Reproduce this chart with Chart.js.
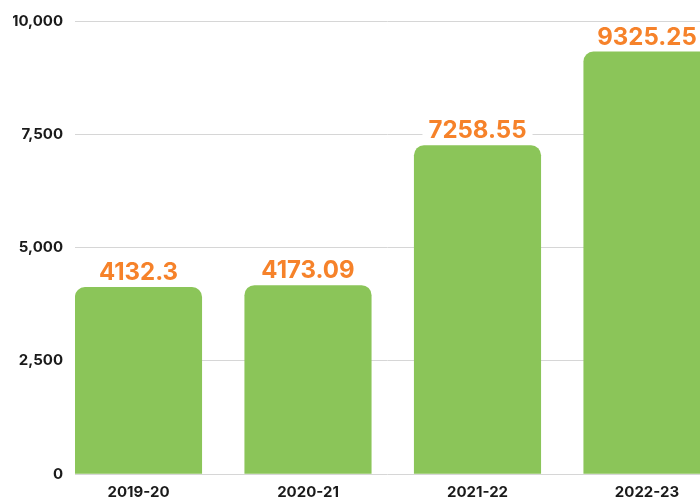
<!DOCTYPE html>
<html>
<head>
<meta charset="utf-8">
<script src="https://cdn.jsdelivr.net/npm/chart.js@4/dist/chart.umd.min.js"></script>
<style>
  html, body { margin: 0; padding: 0; background: #fff; overflow: hidden; }
  #wrap { width: 700px; height: 502px; position: relative; }
</style>
</head>
<body>
<div id="wrap"><canvas id="barchart"></canvas></div>
<script>
// Data
const categories = ['2019-20', '2020-21', '2021-22', '2022-23'];
const values = [4132.3, 4173.09, 7258.55, 9325.25];
const yTicks = [0, 2500, 5000, 7500, 10000];

const barColor = '#8bc559';
const labelColor = '#f6822a';

// value labels above each bar, white box behind so the grid line is hidden
const valueLabels = {
    id: 'valueLabels',
    afterDatasetsDraw(chart) {
        const ctx = chart.ctx;
        const meta = chart.getDatasetMeta(0);
        ctx.save();
        ctx.font = '700 24px Inter';
        ctx.textAlign = 'center';
        ctx.textBaseline = 'alphabetic';
        meta.data.forEach((bar, i) => {
            const txt = String(values[i]);
            const w = ctx.measureText(txt).width;
            const base = bar.y - 7;
            ctx.fillStyle = '#fff';
            ctx.fillRect(bar.x - w / 2 - 6, base - 21, w + 12, 25);
            ctx.fillStyle = labelColor;
            ctx.fillText(txt, bar.x, base);
        });
        ctx.restore();
    }
};

new Chart('barchart', {
    type: 'bar',
    data: {
        datasets: [{
            data: values.map((v, i) => ({x: i, y: v})),
            backgroundColor: barColor,
            borderRadius: {topLeft: 10, topRight: 10},
            borderSkipped: 'start',
            categoryPercentage: 1,
            barPercentage: 0.75
        }]
    },
    options: {
        responsive: true,
        maintainAspectRatio: false,
        animation: false,
        layout: {padding: {left: 13, top: 19.5, right: 0, bottom: 0}},
        plugins: {legend: {display: false}, tooltip: {enabled: false}},
        scales: {
            x: {
                type: 'linear',
                offset: false,
                min: -0.3746,
                max: 3.3127,
                afterBuildTicks: s => { s.ticks = categories.map((_, i) => ({value: i})); },
                afterFit: s => { s.height = 27.7; },
                ticks: {
                    callback: v => categories[v],
                    color: '#1a1a1a',
                    font: {family: 'Inter', size: 15, weight: '700'},
                    padding: 9,
                    maxRotation: 0,
                    autoSkip: false
                },
                grid: {display: false, drawTicks: false, offset: false},
                border: {display: false}
            },
            y: {
                min: 0,
                max: 10000,
                afterBuildTicks: s => { s.ticks = yTicks.map(v => ({value: v})); },
                afterFit: s => { s.width = 62; },
                ticks: {
                    callback: v => v.toLocaleString('en-US'),
                    color: '#1a1a1a',
                    font: {family: 'Inter', size: 15, weight: '700'},
                    padding: 12
                },
                grid: {color: '#d6d6d6', drawTicks: false},
                border: {display: false}
            }
        }
    },
    plugins: [valueLabels]
});
</script>
</body>
</html>
